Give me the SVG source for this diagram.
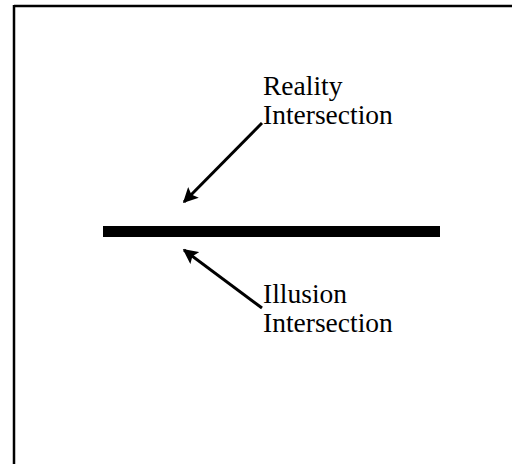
<svg xmlns="http://www.w3.org/2000/svg" width="512" height="464" viewBox="0 0 512 464">
<style>
.lbl{font-family:"Liberation Serif","Times New Roman",serif;font-size:27.5px;fill:#000}
.conn{stroke:#000;stroke-width:3;fill:none}
</style>
<defs>
<marker id="ah" viewBox="0 0 10 10" refX="9" refY="5" markerWidth="5" markerHeight="5" orient="auto" markerUnits="strokeWidth">
<path d="M0,0 L10,5 L0,10 L2,5 Z" fill="#000"/>
</marker>
</defs>
<rect width="512" height="464" fill="#fff"/>
<g id="frame">
<line x1="14" y1="6" x2="512" y2="6" stroke="#000" stroke-width="2.5"/>
<line x1="14" y1="5" x2="14" y2="464" stroke="#000" stroke-width="2.5"/>
</g>
<g id="bar">
<rect x="103" y="226" width="337" height="11" fill="#000"/>
</g>
<g id="reality">
<text class="lbl" x="263" y="95">Reality</text>
<text class="lbl" x="263" y="124">Intersection</text>
</g>
<g id="illusion">
<text class="lbl" x="263" y="303">Illusion</text>
<text class="lbl" x="263" y="332">Intersection</text>
</g>
<g id="connectors">
<line class="conn" x1="262" y1="123" x2="184" y2="202" marker-end="url(#ah)"/>
<line class="conn" x1="262" y1="308" x2="184" y2="250" marker-end="url(#ah)"/>
</g>
</svg>
